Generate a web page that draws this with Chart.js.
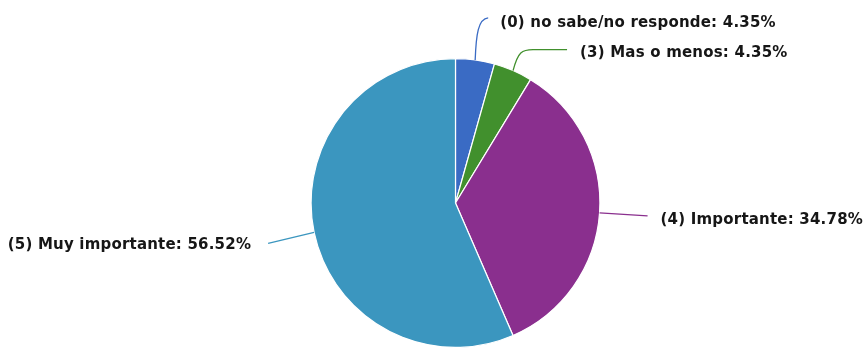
<!DOCTYPE html>
<html>
<head>
<meta charset="utf-8">
<script src="https://cdn.jsdelivr.net/npm/chart.js@4/dist/chart.umd.min.js"></script>
<style>
  html, body { margin: 0; padding: 0; background: #ffffff; }
  #wrap { width: 865px; height: 348px; }
</style>
</head>
<body>
<div id="wrap"><canvas id="pie" width="865" height="348"></canvas></div>
<script>
// Survey answers: share of responses per option (%)
const categories = [
  "(0) no sabe/no responde",
  "(3) Mas o menos",
  "(4) Importante",
  "(5) Muy importante"
];
const percentages = [4.35, 4.35, 34.78, 56.52];
const sliceColors = ["#3a6bc4", "#41902d", "#8a2f8e", "#3b96bf"];

// Leader line geometry per slice, relative to the slice's outer mid-point:
// path: list of [dx, dy] points (bezier when 3 points given), text anchor and alignment
const calloutLayout = [
  { curve: [[1, -26], [3, -41], [13, -42]], text: [25, -37], align: "left" },
  { curve: [[5, -19], [9, -21], [20, -21]], end: [54, -21], text: [67, -17], align: "left" },
  { line: [48, 3], text: [61, 7], align: "left" },
  { line: [-46, 11], text: [-63, 13], align: "right" }
];

const calloutPlugin = {
  id: "callouts",
  afterDatasetsDraw(chart) {
    const ctx = chart.ctx;
    const meta = chart.getDatasetMeta(0);
    const ds = chart.data.datasets[0];
    meta.data.forEach((arc, i) => {
      const p = arc.getProps(["x", "y", "startAngle", "endAngle", "outerRadius"], true);
      const mid = (p.startAngle + p.endAngle) / 2;
      const ax = p.x + Math.cos(mid) * p.outerRadius;
      const ay = p.y + Math.sin(mid) * p.outerRadius;
      const lay = calloutLayout[i];
      ctx.save();
      ctx.strokeStyle = ds.backgroundColor[i];
      ctx.lineWidth = 1.3;
      ctx.beginPath();
      ctx.moveTo(ax, ay);
      if (lay.curve) {
        const c = lay.curve;
        ctx.bezierCurveTo(ax + c[0][0], ay + c[0][1], ax + c[1][0], ay + c[1][1], ax + c[2][0], ay + c[2][1]);
        if (lay.end) ctx.lineTo(ax + lay.end[0], ay + lay.end[1]);
      } else {
        ctx.lineTo(ax + lay.line[0], ay + lay.line[1]);
      }
      ctx.stroke();
      ctx.fillStyle = "#161616";
      ctx.font = "bold 15px 'DejaVu Sans'";
      ctx.letterSpacing = "0.2px";
      ctx.textAlign = lay.align;
      ctx.textBaseline = "middle";
      const txt = chart.data.labels[i] + ": " + ds.data[i].toFixed(2) + "%";
      ctx.fillText(txt, ax + lay.text[0], ay + lay.text[1]);
      ctx.restore();
    });
  }
};

new Chart(document.getElementById("pie"), {
  type: "pie",
  data: {
    labels: categories,
    datasets: [{
      data: percentages,
      backgroundColor: sliceColors,
      borderColor: "#ffffff",
      borderWidth: 1.2
    }]
  },
  options: {
    responsive: false,
    animation: false,
    layout: { padding: { top: 58, bottom: 0, left: 46, right: 0 } },
    plugins: {
      legend: { display: false },
      tooltip: { enabled: false }
    }
  },
  plugins: [calloutPlugin]
});
</script>
</body>
</html>
